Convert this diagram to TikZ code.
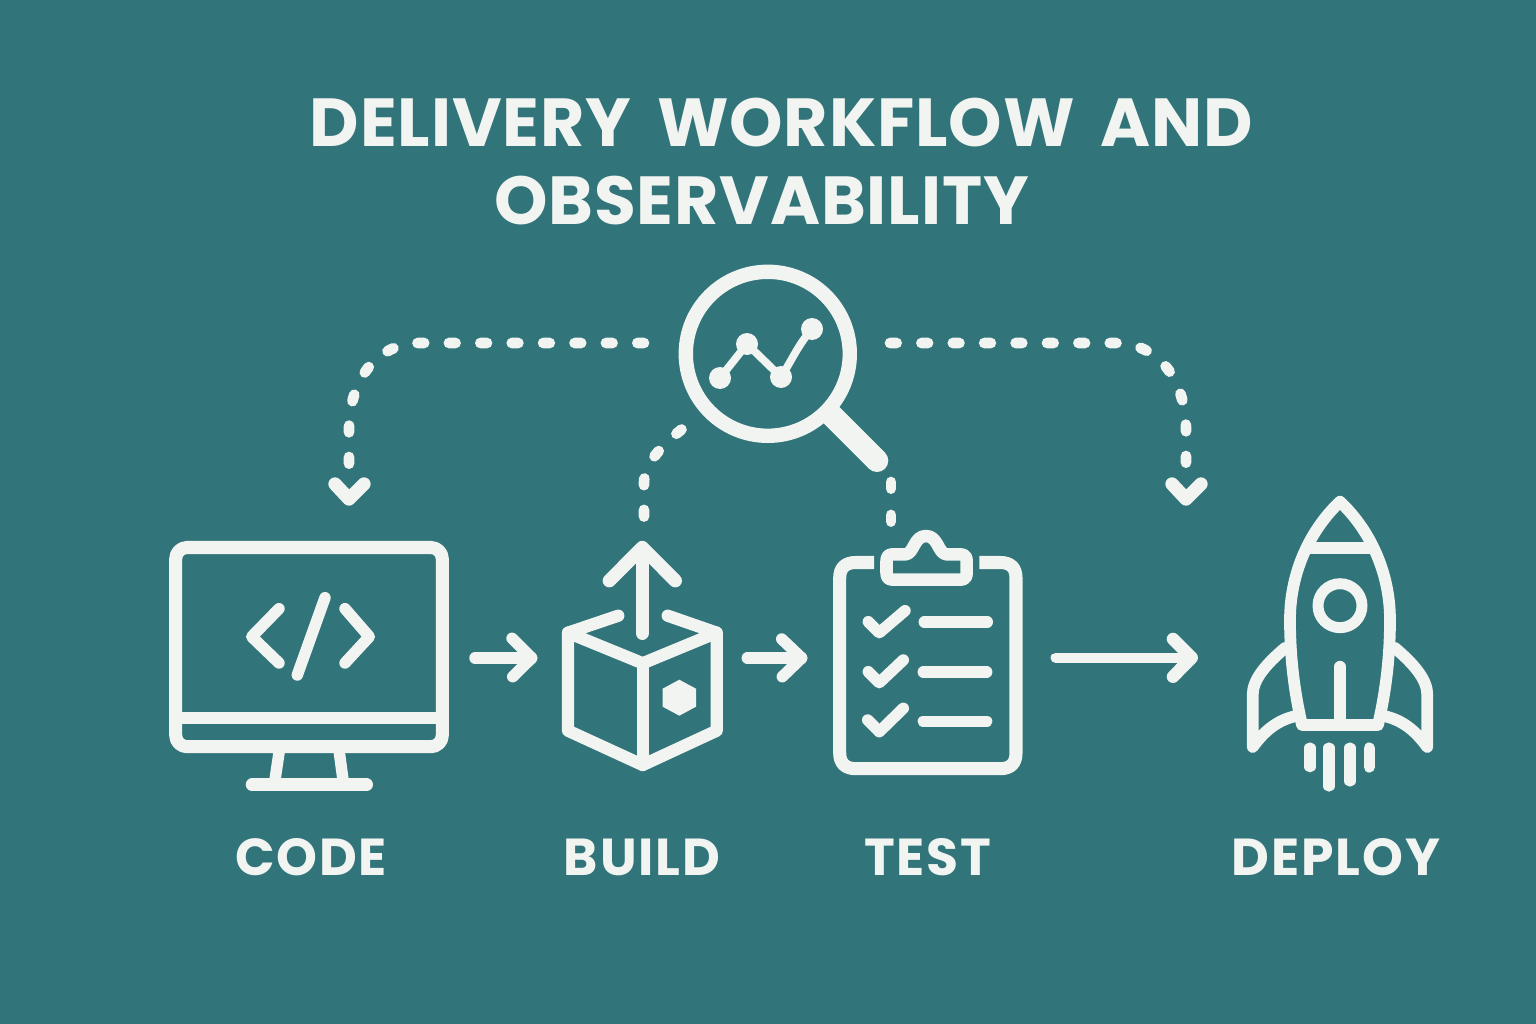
\documentclass[tikz,border=0pt]{standalone}
\usepackage{fontspec}
\setmainfont{Poppins}[BoldFont={Poppins SemiBold}]
\newfontfamily\titlefont{Poppins Bold}[LetterSpace=1.3,WordSpace=1.7]
\newfontfamily\labelfont{Poppins Bold}[LetterSpace=3.5]
\definecolor{bgteal}{HTML}{31757B}
\definecolor{ink}{HTML}{F1F4F0}
\tikzset{
  icon/.style={draw=ink,line cap=round,line join=round,line width=9.2pt},
  thin icon/.style={icon,line width=8.6pt},
  dashconn/.style={draw=ink,line cap=round,line width=8pt,dash pattern=on 5pt off 18.55pt},
  head/.style={icon,line width=10pt},
  flow/.style={icon,line width=8.6pt},
  fillink/.style={fill=ink,draw=none},
  titletext/.style={text=ink,font=\titlefont\fontsize{51}{60}\selectfont,inner sep=0pt,anchor=center},
  labeltext/.style={text=ink,font=\labelfont\fontsize{39}{44}\selectfont,inner sep=0pt,anchor=center},
}
\begin{document}
\begin{tikzpicture}[x=0.75pt,y=-0.75pt]
\useasboundingbox (0,0) rectangle (1536,1024);
\fill[bgteal] (0,0) rectangle (1536,1024);
% title
\node[titletext] (title1) at (781.5,123) {DELIVERY WORKFLOW AND};
\node[titletext] (title2) at (761.5,201) {OBSERVABILITY};
% labels
\node[labeltext] (lcode) at (311,857) {CODE};
\node[labeltext] (lbuild) at (642,857) {BUILD};
\node[labeltext] (ltest) at (928,857) {TEST};
\node[labeltext] (ldeploy) at (1336,857) {DEPLOY};
% anchors of connectors
\coordinate (magL) at (644,343);
\coordinate (magR) at (890,343);
\coordinate (magBL) at (681.5,429.5);
\coordinate (magBR) at (891,482);
\coordinate (codeIn) at (349,468);
\coordinate (deployIn) at (1186,468);
\coordinate (buildOut) at (644,521);
\coordinate (testOut) at (891,522);
\coordinate (codeOut) at (475,658);
\coordinate (buildIn) at (531.7,658);
\coordinate (buildOut2) at (747.3,658);
\coordinate (testIn) at (801.7,658);
\coordinate (testOut2) at (1055.7,657.7);
\coordinate (deployIn2) at (1191.7,657.7);
% magnifier
\node[circle,draw=ink,line width=10.8pt,minimum size=123pt-0pt,inner sep=0pt] (mag) at (767.8,353.8) {};
\draw[draw=ink,line width=17pt] (825,408.7) -- (877,460.7);
\fill[ink] (877,460.7) circle[radius=11.3];
\draw[icon,line width=5.8pt] (720,378) -- (747,344) -- (781,377) .. controls (792,360) and (798,345) .. (812,329);
\foreach \p/\r in {720/378,747/344,781/377,812/329}{\fill[ink] (\p,\r) circle[radius=11];}
% dashed connectors
\draw[dashconn] (magL) -- (420,343) .. controls (378,343) and (349,378) .. (349,431) -- (codeIn);
\draw[dashconn] (magR) -- (1115,343) .. controls (1157,343) and (1186,378) .. (1186,431) -- (deployIn);
\draw[dashconn] (magBL) .. controls (660,447) and (644,465) .. (644,483) -- (buildOut);
\draw[dashconn,dash pattern=on 5pt off 19.7pt] (magBR) -- (testOut);
\draw[head] (335,484) -- (349,499) -- (364,484);
\draw[head] (1172,484) -- (1186,499) -- (1201,484);
% monitor
\draw[icon,line width=9.8pt,rounded corners=8.5pt] (175.7,547.5) rectangle (442.3,746.7);
\draw[icon,line width=9.4pt,line cap=butt] (176,718) -- (442,718);
\draw[thin icon,line cap=butt] (279.7,748) -- (274.7,782);
\draw[thin icon,line cap=butt] (338.7,748) -- (343.3,782);
\draw[icon,line width=9.4pt] (252,784.7) -- (366.7,784.7);
\draw[thin icon] (279,608.7) -- (251.7,636.7) -- (279,663);
\draw[thin icon] (345,608.7) -- (369.3,636.7) -- (345,663);
\draw[thin icon] (325,597.7) -- (297.3,675);
% flow arrows
\draw[flow] (codeOut) -- (buildIn);
\draw[flow] (512,638.3) -- (531.7,658) -- (512.7,676.7);
\draw[flow] (buildOut2) -- (testIn);
\draw[flow] (781.7,639) -- (801.7,658) -- (782.3,676.7);
\draw[flow,line width=7.8pt] (testOut2) -- (deployIn2);
\draw[flow,line width=9.4pt] (1173,639) -- (1191.7,657.7) -- (1173,676.7);
% box
\draw[icon] (618.3,615.7) -- (568,632.7) -- (568,730.7) -- (642.7,765) -- (716.7,730.7) -- (716.7,632.7) -- (667.7,615.7);
\draw[icon] (568,632.7) -- (642.7,663.3) -- (716.7,632.7);
\draw[icon] (642.7,663.3) -- (642.7,765);
\fill[ink] (679.3,679.7) -- (696,688.7) -- (696,706.7) -- (679.3,715.7) -- (662.6,706.7) -- (662.6,688.7) -- cycle;
\draw[icon,line width=10pt] (642.3,633.3) -- (642.3,550);
\draw[icon,line width=10pt] (609.3,580.7) -- (642.3,547.5) -- (675.3,580.7);
% clipboard
\draw[icon,line width=9.8pt,line cap=butt] (874,562.5) -- (856,562.5) .. controls (845,562.5) and (839.7,568) .. (839.7,578) -- (839.7,753) .. controls (839.7,763) and (845,768.7) .. (856,768.7) -- (1000,768.7) .. controls (1011,768.7) and (1016,763) .. (1016,753) -- (1016,578) .. controls (1016,568) and (1011,562.5) .. (1000,562.5) -- (979.3,562.5);
\draw[icon,line width=9.4pt] (893,579.7) .. controls (888.5,579.7) and (886.5,577.5) .. (886.5,573) -- (886.5,561) .. controls (886.5,556.5) and (888.5,554.3) .. (893,554.3) -- (906,554.3) .. controls (914,553) and (914,536) .. (926,536) .. controls (938,536) and (938,553) .. (946,554.3) -- (960,554.3) .. controls (964.7,554.3) and (966.7,556.5) .. (966.7,561) -- (966.7,573) .. controls (966.7,577.5) and (964.7,579.7) .. (960,579.7) -- cycle;
\draw[thin icon] (868.3,621.7) -- (879.3,632.7) -- (905,610.7);
\draw[thin icon] (924.3,622) -- (987.3,622);
\draw[thin icon] (868.3,671.7) -- (879.3,682.7) -- (903.3,660);
\draw[thin icon] (923.3,672) -- (986.7,672);
\draw[thin icon] (867.7,720) -- (879.3,731.7) -- (903.3,708.3);
\draw[thin icon] (923.3,721.3) -- (986.7,721.3);
% rocket
\draw[icon,line width=8.8pt] (1340,501.7) .. controls (1312,528) and (1290,570) .. (1290,620) .. controls (1290,660) and (1295,695) .. (1302,725) -- (1378,725) .. controls (1385,695) and (1390,660) .. (1390,620) .. controls (1390,570) and (1368,528) .. (1340,501.7) -- cycle;
\draw[icon,line width=8.8pt,line cap=butt] (1306,548) -- (1374,548);
\draw[draw=ink,line width=8.2pt] (1340,605.7) circle[radius=22];
\draw[icon,line width=8.8pt] (1340,666.7) -- (1340,725);
\draw[icon,line width=8.8pt] (1285,648) .. controls (1265,665) and (1252.7,680) .. (1252.7,695) -- (1252.7,747) .. controls (1265,730) and (1278,720) .. (1296,716);
\draw[icon,line width=8.8pt] (1395,648) .. controls (1415,665) and (1427.3,680) .. (1427.3,695) -- (1427.3,747) .. controls (1415,730) and (1402,720) .. (1384,716);
\draw[icon,line width=8.4pt] (1310,748) -- (1310,766.7);
\draw[icon,line width=8.4pt] (1329,748) -- (1329,786);
\draw[icon,line width=8.4pt] (1350,748) -- (1350,781);
\draw[icon,line width=8.4pt] (1369.3,748) -- (1369.3,767);
\end{tikzpicture}
\end{document}
